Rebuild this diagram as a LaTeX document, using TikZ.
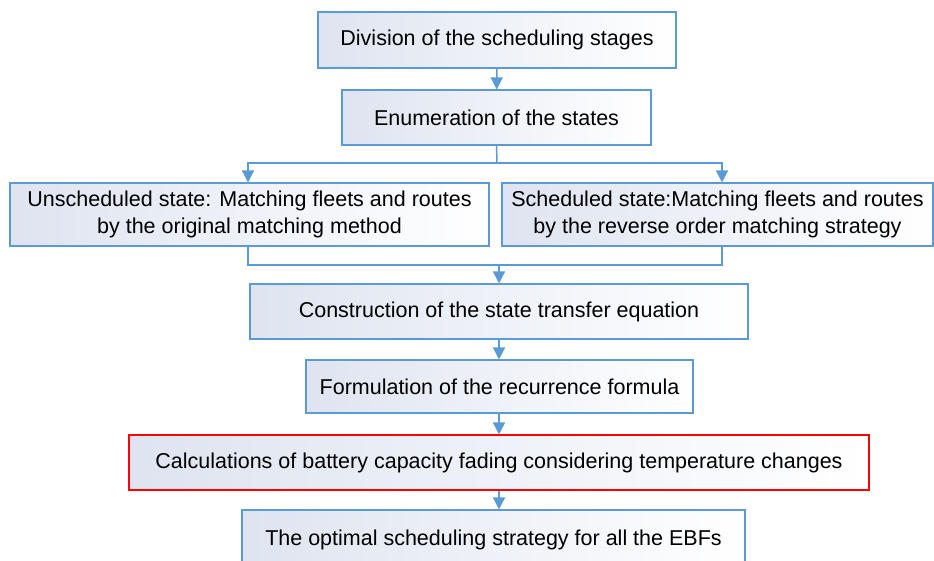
\documentclass[tikz,border=0pt]{standalone}
\usepackage{fontspec}
\setmainfont{Liberation Sans}
\usepackage{tikz}
\usetikzlibrary{shapes,arrows,arrows.meta}
\usetikzlibrary{positioning}
\definecolor{flowblue}{RGB}{91,155,213}
\definecolor{boxshade}{RGB}{222,228,240}
\tikzstyle{stage} = [draw=flowblue, rectangle, line width=1.1pt, left color=boxshade, right color=white,
align=center, inner sep=0pt, font=\fontsize{21.5}{27}\selectfont]
\tikzstyle{line} = [draw=flowblue, line width=1.5pt, -{Triangle[width=12pt,length=12pt]}]
\tikzstyle{link} = [draw=flowblue, line width=1.5pt]

\begin{document}
\begin{tikzpicture}[x=1pt, y=1pt]
	\useasboundingbox (0,0) rectangle (934,-560);
	% Stages
	\node [stage, minimum width=358pt, minimum height=56pt] at (497,-40) (div) {Division of the scheduling stages};
	\node [stage, minimum width=309pt, minimum height=55pt] at (496.5,-117.5) (enum) {Enumeration of the states};
	\node [stage, minimum width=479pt, minimum height=63pt] at (249.5,-214.5) (unsch) {Unscheduled state: Matching fleets and routes\\by the original matching method};
	\node [stage, minimum width=431pt, minimum height=63pt] at (717.5,-214.5) (sch) {Scheduled state:Matching fleets and routes\\by the reverse order matching strategy};
	\node [stage, minimum width=498pt, minimum height=55pt] at (499,-311.5) (constr) {Construction of the state transfer equation};
	\node [stage, minimum width=387pt, minimum height=53pt] at (499.5,-386.5) (form) {Formulation of the recurrence formula};
	\node [stage, draw=red, minimum width=740pt, minimum height=55pt] at (499,-462.5) (calc) {Calculations of battery capacity fading considering temperature changes};
	\node [stage, minimum width=503pt, minimum height=60pt] at (493.5,-540) (opt) {The optimal scheduling strategy for all the EBFs};
	% Split and join points
	\coordinate (split) at (497,-163);
	\coordinate (join) at (499,-265);
	%% Flows
	\path [line] (div) -- (enum);
	% Branches
	\path [link] (enum.south) -- (split);
	\path [line] (split) -| ([xshift=-1.5pt]unsch.north);
	\path [line] (split) -| ([xshift=4.5pt]sch.north);
	% Merge
	\path [link] ([xshift=-1.5pt]unsch.south) |- (join);
	\path [link] ([xshift=4.5pt]sch.south) |- (join);
	\path [line] (join) -- (constr.north -| join);
	% Remaining steps
	\path [line] (constr.south -| join) -- (form.north -| join);
	\path [line] (form.south -| join) -- (calc.north -| join);
	\path [line] (calc.south -| join) -- (opt.north -| join);
\end{tikzpicture}
\end{document}
